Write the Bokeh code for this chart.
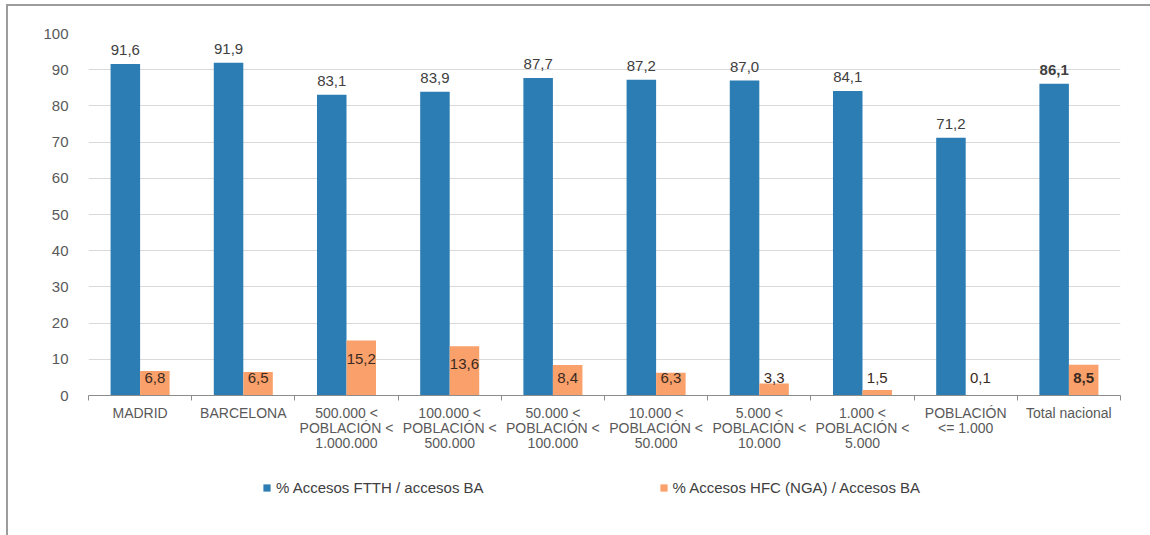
from bokeh.plotting import figure
from bokeh.layouts import column
from bokeh.models import ColumnDataSource, Range1d, FixedTicker, Legend, LegendItem
from bokeh.transform import dodge
from bokeh.core.properties import value
from bokeh.embed import file_html
from bokeh.resources import INLINE

categories = ["MADRID", "BARCELONA", "500.000 <\nPOBLACIÓN <\n1.000.000",
              "100.000 <\nPOBLACIÓN <\n500.000", "50.000 <\nPOBLACIÓN <\n100.000",
              "10.000 <\nPOBLACIÓN <\n50.000", "5.000 <\nPOBLACIÓN <\n10.000",
              "1.000 <\nPOBLACIÓN <\n5.000", "POBLACIÓN\n<= 1.000", "Total nacional"]
ftth = [91.6, 91.9, 83.1, 83.9, 87.7, 87.2, 87.0, 84.1, 71.2, 86.1]
hfc = [6.8, 6.5, 15.2, 13.6, 8.4, 6.3, 3.3, 1.5, 0.1, 8.5]
series_names = ["% Accesos FTTH / accesos BA", "% Accesos HFC (NGA) / Accesos BA"]
y_ticks = [0, 10, 20, 30, 40, 50, 60, 70, 80, 90, 100]

BLUE = "#2b7db3"
ORANGE = "#f9a06b"

def fmt(v):
    return f"{v:.1f}".replace(".", ",")

n = len(categories)
slot_center = [i + 0.5 for i in range(n)]       # centre of each category slot
slot_edges = list(range(n + 1))                  # boundaries between categories

bold = ["bold" if c == "Total nacional" else "normal" for c in categories]
src = ColumnDataSource(dict(
    pos=slot_center, ftth=ftth, hfc=hfc,
    ftth_lbl=[fmt(v) for v in ftth], hfc_lbl=[fmt(v) for v in hfc],
    hfc_y=[max(v - 5.0, 4.7) for v in hfc], style=bold,
))

p = figure(width=1142, height=470, x_range=Range1d(0, n), y_range=Range1d(0, 100),
           output_backend="svg", toolbar_location=None,
           min_border_left=80, min_border_right=30, min_border_top=27, min_border_bottom=81)
p.outline_line_color = None
p.background_fill_color = "white"
p.border_fill_color = "white"

r1 = p.vbar(x=dodge("pos", -0.143), top="ftth", width=0.286, source=src,
            fill_color=BLUE, line_color=None)
r2 = p.vbar(x=dodge("pos", 0.143), top="hfc", width=0.286, source=src,
            fill_color=ORANGE, line_color=None)

p.text(x=dodge("pos", -0.143), y="ftth", text="ftth_lbl", source=src,
       text_align="center", text_baseline="bottom", y_offset=-9,
       text_font=value("Liberation Sans"), text_font_size="15px", text_color="#404040",
       text_font_style="style")
p.text(x=dodge("pos", 0.143), y="hfc_y", text="hfc_lbl", source=src,
       text_align="center", text_baseline="middle",
       text_font=value("Liberation Sans"), text_font_size="15px", text_color="#3a2a22",
       text_font_style="style")

# y axis
yax = p.yaxis[0]
yax.ticker = FixedTicker(ticks=y_ticks)
yax.axis_line_color = None
yax.major_tick_line_color = None
yax.minor_tick_line_color = None
yax.major_label_standoff = 14
yax.major_label_text_font = "Liberation Sans"
yax.major_label_text_font_size = "15px"
yax.major_label_text_color = "#595959"

p.xgrid.grid_line_color = None
p.ygrid.ticker = FixedTicker(ticks=y_ticks)
p.ygrid.grid_line_color = "#d9d9d9"
p.ygrid.grid_line_width = 1

# x axis: labels at slot centres, tick marks at slot boundaries
xax = p.xaxis[0]
xax.ticker = FixedTicker(ticks=slot_center, minor_ticks=slot_edges)
xax.major_label_overrides = {c: lab for c, lab in zip(slot_center, categories)}
xax.axis_line_color = "#8c8c8c"
xax.major_tick_line_color = None
xax.minor_tick_line_color = "#8c8c8c"
xax.minor_tick_out = 5
xax.minor_tick_in = 0
xax.major_label_standoff = 3
xax.major_label_text_font = "Liberation Sans"
xax.major_label_text_font_size = "14px"
xax.major_label_text_line_height = 0.95
xax.major_label_text_color = "#595959"
xax.major_label_orientation = "horizontal"

# legend strip below the chart (its renderers are hidden; only the legend shows)
pl = figure(width=1142, height=59, x_range=Range1d(0, n), y_range=Range1d(0, 100),
            output_backend="svg", toolbar_location=None, min_border=0)
pl.axis.visible = False
pl.grid.grid_line_color = None
pl.outline_line_color = None
l1 = pl.vbar(x="pos", top="ftth", width=0.286, source=src, fill_color=BLUE, line_color=None,
             visible=False)
l2 = pl.vbar(x="pos", top="hfc", width=0.286, source=src, fill_color=ORANGE, line_color=None,
             visible=False)
legend = Legend(items=[LegendItem(label=series_names[0], renderers=[l1]),
                       LegendItem(label=series_names[1], renderers=[l2])],
                orientation="horizontal", location=(174, 39), spacing=175,
                glyph_width=9, glyph_height=9, label_standoff=5,
                label_text_font="Liberation Sans", label_text_font_size="15px",
                label_text_color="#404040", border_line_color=None,
                background_fill_alpha=0, inactive_fill_alpha=0, margin=0, padding=0)
pl.add_layout(legend)

layout = column(p, pl, spacing=0)
layout.styles = {"border-left": "2px solid #9c9c9c", "border-top": "2px solid #9c9c9c",
                 "margin-left": "6px", "margin-top": "4px"}

open("out.html", "w").write(file_html(layout, INLINE))
